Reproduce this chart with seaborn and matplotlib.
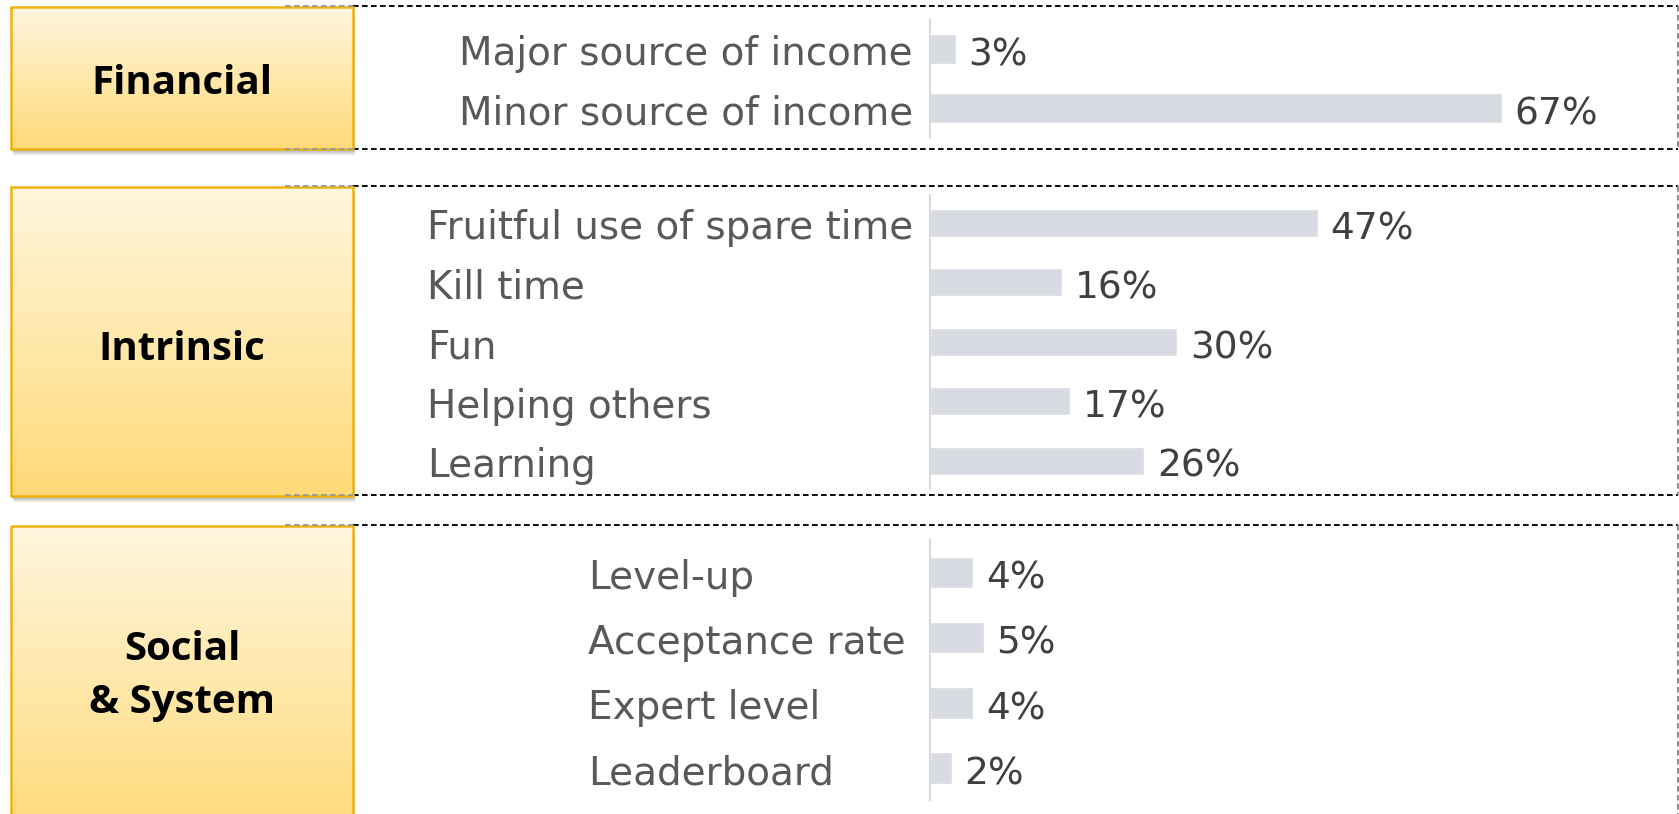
import numpy as np
import matplotlib
matplotlib.use("Agg")
import matplotlib.pyplot as plt
import matplotlib.transforms as mtransforms
from matplotlib.patches import Rectangle
import pandas as pd
import seaborn as sns

# Survey data: motivations, grouped in three families
financial_labels = ["Major source of income", "Minor source of income"]
financial_values = [3, 67]

intrinsic_labels = ["Fruitful use of spare time", "Kill time", "Fun",
                    "Helping others", "Learning"]
intrinsic_values = [47, 16, 30, 17, 26]

social_labels = ["Level-up", "Acceptance rate", "Expert level", "Leaderboard"]
social_values = [4, 5, 4, 2]

group_titles = ["Financial", "Intrinsic", "Social\n& System"]

W, H = 1679, 814
BAR_COLOR = "#D9DBE3"
LABEL_COLOR = "#595959"
VALUE_COLOR = "#404040"
LABEL_SIZE = 28
VALUE_SIZE = 27
TITLE_SIZE = 29
LABEL_FONT = ["DejaVu Sans"]

sns.set_theme(style="white")
plt.rcParams["font.family"] = ["Open Sans", "DejaVu Sans"]

fig = plt.figure(figsize=(W / 100, H / 100), dpi=100)

# Background canvas in pixel units (origin top-left) for frames and boxes
bg = fig.add_axes([0, 0, 1, 1])
bg.set_xlim(0, W)
bg.set_ylim(H, 0)
bg.axis("off")


def fig_rect(x0, y0, x1, y1):
    return [x0 / W, 1 - y1 / H, (x1 - x0) / W, (y1 - y0) / H]


# Layout of each group (pixel units)
panels = [
    dict(labels=financial_labels, values=financial_values, title=group_titles[0],
         box=(11, 7, 353, 149), frame=(6, 149), axes_y=(20, 137),
         ylim=(1.49, -0.49), width=0.5, xmax=86.7,
         label_x=913, label_ha="right", title_y=83),
    dict(labels=intrinsic_labels, values=intrinsic_values, title=group_titles[1],
         box=(11, 187, 353, 496), frame=(186, 495), axes_y=(195, 488),
         ylim=(4.46, -0.47), width=0.47, xmax=89.7,
         label_x=427, label_ha="left", title_y=349),
    dict(labels=social_labels, values=social_values, title=group_titles[2],
         box=(11, 526, 353, 840), frame=(525, 860), axes_y=(540, 800),
         ylim=(3.49, -0.5), width=0.48, xmax=68.5,
         label_x=588, label_ha="left", title_y=676),
]

dash = (0, (3.0, 1.8))
top_col = np.array([255, 246, 222]) / 255
bot_col = np.array([255, 218, 120]) / 255
grad = np.linspace(0, 1, 256)[:, None, None]
grad_img = top_col * (1 - grad) + bot_col * grad

AX_LEFT, AX_RIGHT = 930, 1670

for p in panels:
    fy0, fy1 = p["frame"]
    # dashed frame (left edge hidden behind the title box)
    for yy in (fy0, fy1):
        bg.plot([353, 1678], [yy, yy], color="black", lw=1.35, ls=dash, zorder=1)
        bg.plot([285, 353], [yy, yy], color="#9A9A9A", lw=1.35, ls=dash, zorder=6)
    bg.plot([1678, 1678], [fy0, fy1], color="#888888", lw=1.35, ls=dash, zorder=1)

    # title box with soft drop shadow and vertical gradient
    x0, y0, x1, y1 = p["box"]
    for off, a in [(7, 0.03), (6, 0.04), (5, 0.05), (4, 0.06), (3, 0.07), (2, 0.08)]:
        bg.add_patch(Rectangle((x0 + off * 0.4, y0 + off), x1 - x0, y1 - y0,
                               facecolor="black", edgecolor="none", alpha=a, zorder=2))
    bg.imshow(grad_img, extent=(x0, x1, y1, y0), aspect="auto",
              interpolation="bicubic", zorder=3)
    bg.add_patch(Rectangle((x0, y0), x1 - x0, y1 - y0, facecolor="none",
                           edgecolor="#EFB20F", lw=1.8, zorder=4))
    bg.text((x0 + x1) / 2, p["title_y"], p["title"], ha="center", va="center",
            fontsize=TITLE_SIZE, fontweight="bold", color="black",
            linespacing=1.5, zorder=5)

    # bar panel
    ay0, ay1 = p["axes_y"]
    ax = fig.add_axes(fig_rect(AX_LEFT, ay0, AX_RIGHT, ay1))
    ax.patch.set_alpha(0)
    df = pd.DataFrame({"label": p["labels"], "value": p["values"]})
    sns.barplot(data=df, x="value", y="label", orient="h", color=BAR_COLOR,
                saturation=1, width=p["width"], ax=ax)
    ax.set_xlim(0, p["xmax"])
    ax.set_ylim(*p["ylim"])
    ax.set_xticks([])
    ax.set_yticks([])
    ax.set_xlabel("")
    ax.set_ylabel("")
    for s in ("top", "right", "bottom"):
        ax.spines[s].set_visible(False)
    ax.spines["left"].set_color("#D9D9D9")
    ax.spines["left"].set_linewidth(1.5)

    vals = ax.bar_label(ax.containers[0], labels=[f"{v}%" for v in p["values"]],
                        padding=9, fontsize=VALUE_SIZE, color=VALUE_COLOR,
                        family=LABEL_FONT)
    for t in vals:
        t.xyann = (t.xyann[0], -4.5)

    trans = mtransforms.blended_transform_factory(bg.transData, ax.transData)
    trans = mtransforms.offset_copy(trans, fig=fig, y=-1.5, units="dots")
    for i, lab in enumerate(p["labels"]):
        ax.text(p["label_x"], i, lab, transform=trans, ha=p["label_ha"],
                va="center_baseline", fontsize=LABEL_SIZE, color=LABEL_COLOR,
                family=LABEL_FONT, clip_on=False)

fig.savefig("out.png", dpi=100)
